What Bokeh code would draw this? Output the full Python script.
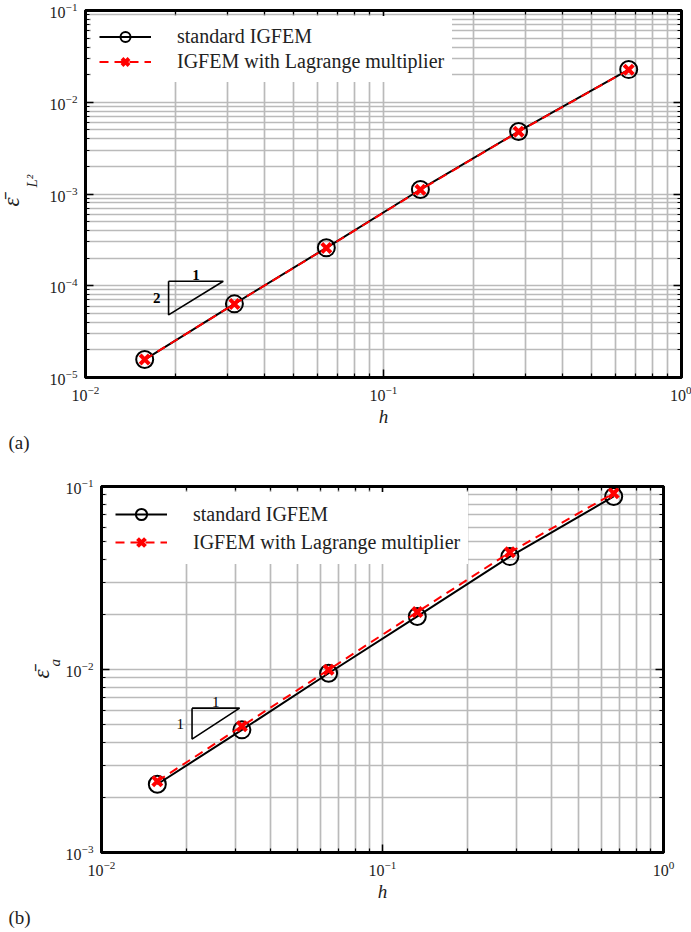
import numpy as np
from bokeh.plotting import figure
from bokeh.models import (LogAxis, FixedTicker, Title, Legend, LegendItem, ColumnDataSource,
                          CustomJSTickFormatter)
from bokeh.layouts import column
from bokeh.core.properties import value
from bokeh.embed import file_html
from bokeh.resources import INLINE

# ---------------- data ----------------
h = [0.0158, 0.0316, 0.0643, 0.133, 0.284, 0.665]
err_l2_standard = [1.57e-5, 6.35e-5, 2.59e-4, 1.12e-3, 4.80e-3, 2.27e-2]
err_l2_lagrange = [1.57e-5, 6.33e-5, 2.58e-4, 1.11e-3, 4.78e-3, 2.26e-2]
err_a_standard = [2.36e-3, 4.68e-3, 9.54e-3, 1.95e-2, 4.14e-2, 8.82e-2]
err_a_lagrange = [2.45e-3, 4.90e-3, 9.96e-3, 2.06e-2, 4.37e-2, 9.19e-2]

x_exponents = [-2, -1, 0]
y_exponents_a = [-5, -4, -3, -2, -1]
y_exponents_b = [-3, -2, -1]

legend_labels = ["standard IGFEM", "IGFEM with Lagrange multiplier"]
panel_labels = ["(a)", "(b)"]
x_label = "h"
y_label_main = "ε̄"
y_label_subs = ["L²", "a"]

# slope triangles: left x, right x, top y, slope
tri_x0 = [0.0190, 0.0210]
tri_x1 = [0.0290, 0.0310]
tri_ytop = [1.12e-4, 6.15e-3]
tri_slope = [2, 1]

SERIF = "Liberation Serif"
GRID = "#bababa"
TXT = "#222222"


def ticks_for(exps):
    majors = [10.0 ** e for e in exps]
    minors = [m * 10.0 ** e for e in exps[:-1] for m in range(2, 10)]
    return FixedTicker(ticks=majors, minor_ticks=minors)


def make_panel(idx, y_std, y_lag, y_exps, borders, panel_offset, legend_h,
               ylab_offsets, ylab_standoffs):
    left, right, top, bottom = borders
    xt = ticks_for(x_exponents)
    yt = ticks_for(y_exps)
    p = figure(width=691, height=466, x_axis_type="log", y_axis_type="log",
               x_range=(10.0 ** x_exponents[0], 10.0 ** x_exponents[-1]),
               y_range=(10.0 ** y_exps[0], 10.0 ** y_exps[-1]),
               min_border_left=left, min_border_right=right,
               min_border_top=top, min_border_bottom=bottom,
               output_backend="svg", toolbar_location=None,
               background_fill_color="white", border_fill_color="white")
    p.frame_align = False
    p.xaxis[0].ticker = xt
    p.yaxis[0].ticker = yt
    for g in (p.xgrid[0], p.ygrid[0]):
        g.grid_line_color = GRID
        g.grid_line_width = 1.7
        g.minor_grid_line_color = GRID
        g.minor_grid_line_width = 1.7
    p.outline_line_color = "black"
    p.outline_line_width = 3

    for ax in (p.xaxis[0], p.yaxis[0]):
        ax.axis_line_width = 3
        ax.major_tick_in = 8
        ax.major_tick_out = 0
        ax.minor_tick_in = 4
        ax.minor_tick_out = 0
        ax.major_tick_line_width = 1.5
        ax.minor_tick_line_width = 1.2
        ax.major_label_text_font = SERIF
        ax.major_label_text_font_size = "16px"
        ax.major_label_text_color = TXT
        ax.major_label_standoff = 8
    p.xaxis[0].axis_label = x_label
    p.xaxis[0].axis_label_text_font = SERIF
    p.xaxis[0].axis_label_text_font_style = "italic"
    p.xaxis[0].axis_label_text_font_size = "19px"
    p.xaxis[0].axis_label_text_color = TXT
    p.xaxis[0].axis_label_standoff = 2

    for loc, tk in (("right", yt), ("above", xt)):
        ax = LogAxis(ticker=tk, formatter=CustomJSTickFormatter(code="return ''"),
                     major_tick_in=8, major_tick_out=0, minor_tick_in=4, minor_tick_out=0,
                     major_tick_line_width=1.5, minor_tick_line_width=1.2,
                     axis_line_width=3, major_label_standoff=0)
        p.add_layout(ax, loc)

    src = ColumnDataSource(dict(h=h, s=y_std, l=y_lag))
    r1 = p.line("h", "s", source=src, line_color="black", line_width=2)
    r2 = p.scatter("h", "s", source=src, marker="circle", size=17, fill_color=None,
                   line_color="black", line_width=2)
    r3 = p.line("h", "l", source=src, line_color="#ff0000", line_width=2, line_dash="9 6")
    r4 = p.scatter("h", "l", source=src, marker="x", size=13, line_color="#ff0000", line_width=4)

    # slope triangle
    x0, x1, yt_, sl = tri_x0[idx], tri_x1[idx], tri_ytop[idx], tri_slope[idx]
    ybot = yt_ / (x1 / x0) ** sl
    p.line([x0, x1, x0, x0], [yt_, yt_, ybot, yt_], line_color="black", line_width=1.6)
    fw = "bold" if idx == 0 else "normal"
    p.text(x=[np.sqrt(x0 * x1)], y=[yt_], text=["1"], text_align="center",
           text_baseline="bottom", y_offset=-1, text_font=value(SERIF), text_color="black",
           text_font_size="15px", text_font_style=fw)
    p.text(x=[x0], y=[np.sqrt(yt_ * ybot)], text=[str(sl)], text_align="right",
           text_baseline="middle", x_offset=-8, text_font=value(SERIF), text_color="black",
           text_font_size="15px", text_font_style=fw)

    legend = Legend(items=[LegendItem(label=legend_labels[0], renderers=[r1, r2]),
                           LegendItem(label=legend_labels[1], renderers=[r3, r4])],
                    location="top_left", margin=6, padding=8, spacing=0,
                    glyph_width=52, glyph_height=legend_h, label_height=legend_h,
                    label_standoff=26,
                    label_text_font=SERIF, label_text_font_size="20px",
                    label_text_color=TXT,
                    background_fill_color="white", background_fill_alpha=1.0,
                    border_line_alpha=0)
    p.add_layout(legend)

    # y label: subscript (closer to the axis) then main symbol, placed from frame bottom
    p.add_layout(Title(text=y_label_subs[idx], align="left", offset=ylab_offsets[1],
                       standoff=ylab_standoffs[1],
                       text_font=SERIF, text_font_style="italic", text_font_size="15px",
                       text_color=TXT), "left")
    p.add_layout(Title(text=y_label_main, align="left", offset=ylab_offsets[0],
                       standoff=ylab_standoffs[0],
                       text_font=SERIF, text_font_style="italic", text_font_size="23px",
                       text_color=TXT), "left")
    # panel label
    p.add_layout(Title(text=panel_labels[idx], align="left", offset=panel_offset, standoff=0,
                       text_font=SERIF, text_font_style="normal", text_font_size="19px",
                       text_color=TXT), "below")
    return p


p1 = make_panel(0, err_l2_standard, err_l2_lagrange, y_exponents_a,
                (85, 10, 10, 89), -77, 25, (171, 190), (-19, 14))
p2 = make_panel(1, err_a_standard, err_a_lagrange, y_exponents_b,
                (101, 28, 20, 80), -93, 28, (174, 186), (-16, -1))

layout = column(p1, p2, spacing=0)
open("out.html", "w").write(file_html(layout, INLINE))
